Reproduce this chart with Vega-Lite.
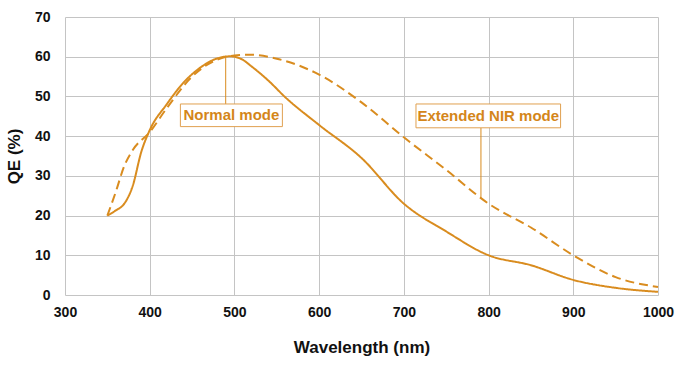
{
  "$schema": "https://vega.github.io/schema/vega-lite/v6.json",
  "width": 593,
  "height": 278,
  "autosize": "none",
  "padding": {"left": 65, "top": 17, "right": 21, "bottom": 79},
  "background": "white",
  "config": {
    "view": {"stroke": null},
    "font": "Liberation Sans",
    "axis": {
      "titleFontSize": 17, "titleFontWeight": "bold", "titleColor": "#111",
      "labelFontSize": 14, "labelFontWeight": "bold", "labelColor": "#111",
      "ticks": false, "domain": false,
      "gridColor": "#c4c4c4", "gridOpacity": 1, "gridWidth": 1,
      "labelOverlap": false, "labelFlush": false, "labelBound": false
    },
    "axisX": {"titlePadding": 20, "labelPadding": 10},
    "axisY": {"titlePadding": 11, "labelPadding": 15}
  },
  "datasets": {
    "curves": [
      {"wl": 350, "qe": 20, "mode": "Normal"},
      {"wl": 360, "qe": 21.3, "mode": "Normal"},
      {"wl": 370, "qe": 23, "mode": "Normal"},
      {"wl": 380, "qe": 27.5, "mode": "Normal"},
      {"wl": 390, "qe": 36, "mode": "Normal"},
      {"wl": 400, "qe": 41.5, "mode": "Normal"},
      {"wl": 420, "qe": 48, "mode": "Normal"},
      {"wl": 440, "qe": 53.5, "mode": "Normal"},
      {"wl": 460, "qe": 57.3, "mode": "Normal"},
      {"wl": 480, "qe": 59.6, "mode": "Normal"},
      {"wl": 495, "qe": 60.1, "mode": "Normal"},
      {"wl": 510, "qe": 59.2, "mode": "Normal"},
      {"wl": 520, "qe": 57.6, "mode": "Normal"},
      {"wl": 540, "qe": 54, "mode": "Normal"},
      {"wl": 560, "qe": 49.8, "mode": "Normal"},
      {"wl": 600, "qe": 42.8, "mode": "Normal"},
      {"wl": 650, "qe": 34.5, "mode": "Normal"},
      {"wl": 700, "qe": 23, "mode": "Normal"},
      {"wl": 750, "qe": 16, "mode": "Normal"},
      {"wl": 800, "qe": 10, "mode": "Normal"},
      {"wl": 850, "qe": 7.5, "mode": "Normal"},
      {"wl": 900, "qe": 3.8, "mode": "Normal"},
      {"wl": 950, "qe": 1.8, "mode": "Normal"},
      {"wl": 1000, "qe": 0.8, "mode": "Normal"},
      {"wl": 350, "qe": 20, "mode": "NIR"},
      {"wl": 360, "qe": 26, "mode": "NIR"},
      {"wl": 370, "qe": 32.5, "mode": "NIR"},
      {"wl": 380, "qe": 36.5, "mode": "NIR"},
      {"wl": 400, "qe": 41, "mode": "NIR"},
      {"wl": 420, "qe": 47, "mode": "NIR"},
      {"wl": 450, "qe": 55, "mode": "NIR"},
      {"wl": 480, "qe": 59.3, "mode": "NIR"},
      {"wl": 500, "qe": 60.3, "mode": "NIR"},
      {"wl": 520, "qe": 60.5, "mode": "NIR"},
      {"wl": 550, "qe": 59.5, "mode": "NIR"},
      {"wl": 600, "qe": 55.5, "mode": "NIR"},
      {"wl": 650, "qe": 48.5, "mode": "NIR"},
      {"wl": 700, "qe": 39.7, "mode": "NIR"},
      {"wl": 750, "qe": 31.5, "mode": "NIR"},
      {"wl": 800, "qe": 23, "mode": "NIR"},
      {"wl": 850, "qe": 17, "mode": "NIR"},
      {"wl": 900, "qe": 10, "mode": "NIR"},
      {"wl": 950, "qe": 4.5, "mode": "NIR"},
      {"wl": 1000, "qe": 2, "mode": "NIR"}
    ],
    "notes": [
      {"label": "Normal mode", "cx": 496.4, "cy": 45.2, "x1": 436.2, "x2": 556.6, "y1": 42.4, "y2": 48.1, "lx": 489.7, "ly1": 48.1, "ly2": 60},
      {"label": "Extended NIR mode", "cx": 799.6, "cy": 45.1, "x1": 714.3, "x2": 885, "y1": 42.1, "y2": 48.1, "lx": 791, "ly1": 42.1, "ly2": 24.5}
    ]
  },
  "layer": [
    {
      "data": {"name": "curves"},
      "mark": {"type": "line", "interpolate": "monotone", "strokeWidth": 2, "color": "#D98C1F"},
      "encoding": {
        "x": {
          "field": "wl", "type": "quantitative",
          "scale": {"domain": [300, 1000], "nice": false},
          "axis": {"values": [300, 400, 500, 600, 700, 800, 900, 1000], "format": "d", "title": "Wavelength (nm)"}
        },
        "y": {
          "field": "qe", "type": "quantitative",
          "scale": {"domain": [0, 70], "nice": false},
          "axis": {"values": [0, 10, 20, 30, 40, 50, 60, 70], "format": "d", "title": "QE (%)"}
        },
        "detail": {"field": "mode", "type": "nominal"},
        "strokeDash": {
          "field": "mode", "type": "nominal",
          "scale": {"domain": ["Normal", "NIR"], "range": [[1, 0], [9, 5]]},
          "legend": null
        }
      }
    },
    {
      "data": {"name": "notes"},
      "mark": {"type": "rule", "color": "#D98C1F", "strokeWidth": 1},
      "encoding": {
        "x": {"field": "lx", "type": "quantitative", "axis": {"values": [300, 400, 500, 600, 700, 800, 900, 1000], "format": "d", "title": "Wavelength (nm)"}},
        "y": {"field": "ly1", "type": "quantitative", "axis": {"values": [0, 10, 20, 30, 40, 50, 60, 70], "format": "d", "title": "QE (%)"}},
        "y2": {"field": "ly2"}
      }
    },
    {
      "data": {"name": "notes"},
      "mark": {"type": "rect", "fill": "white", "stroke": "#E0A050", "strokeWidth": 1},
      "encoding": {
        "x": {"field": "x1", "type": "quantitative", "axis": {"values": [300, 400, 500, 600, 700, 800, 900, 1000], "format": "d", "title": "Wavelength (nm)"}},
        "x2": {"field": "x2"},
        "y": {"field": "y1", "type": "quantitative", "axis": {"values": [0, 10, 20, 30, 40, 50, 60, 70], "format": "d", "title": "QE (%)"}},
        "y2": {"field": "y2"}
      }
    },
    {
      "data": {"name": "notes"},
      "mark": {"type": "text", "color": "#D4861A", "fontSize": 15, "fontWeight": "bold", "align": "center", "baseline": "middle"},
      "encoding": {
        "x": {"field": "cx", "type": "quantitative", "axis": {"values": [300, 400, 500, 600, 700, 800, 900, 1000], "format": "d", "title": "Wavelength (nm)"}},
        "y": {"field": "cy", "type": "quantitative", "axis": {"values": [0, 10, 20, 30, 40, 50, 60, 70], "format": "d", "title": "QE (%)"}},
        "text": {"field": "label"}
      }
    }
  ]
}
